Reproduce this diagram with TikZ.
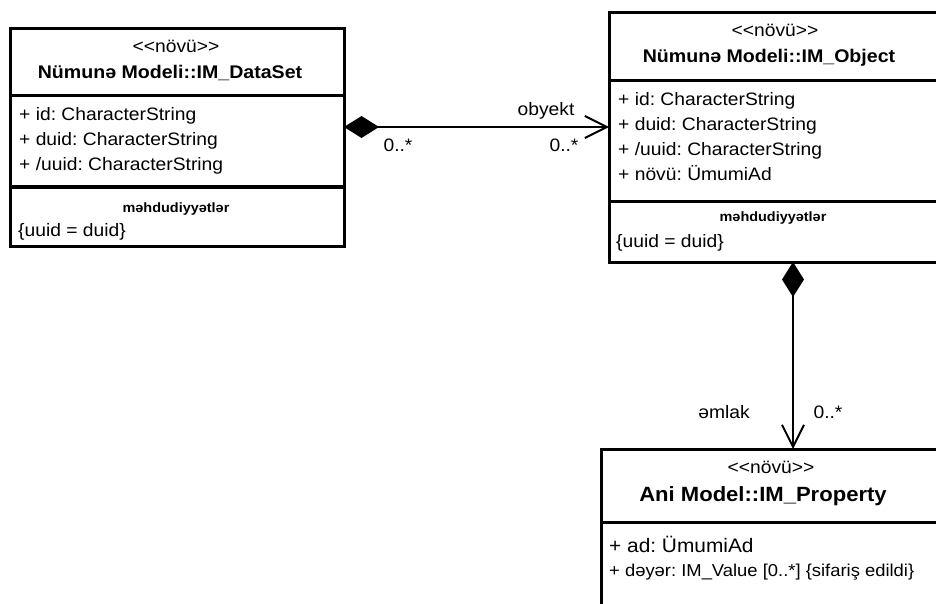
\documentclass[tikz,border=0pt]{standalone}
\usepackage{fontspec}
\setmainfont{Liberation Sans}[FakeStretch=1.07]
\usetikzlibrary{arrows.meta}
\begin{document}
\frenchspacing
\begin{tikzpicture}[x=1pt,y=-1pt,
  umlbox/.style={draw,line width=3pt,inner sep=0pt,outer sep=0pt},
  sep/.style={line width=3pt},
  txt/.style={inner sep=0pt,font=\fontsize{18}{20}\selectfont},
  ttl/.style={inner sep=0pt,font=\fontsize{18.3}{20}\selectfont\bfseries},
  cons/.style={inner sep=0pt,font=\fontsize{13.5}{15}\selectfont\bfseries},
  bigtxt/.style={inner sep=0pt,font=\fontsize{19.5}{22}\selectfont},
  bigttl/.style={inner sep=0pt,font=\fontsize{20.6}{22}\selectfont\bfseries},
  smalltxt/.style={inner sep=0pt,font=\fontsize{17.2}{19}\selectfont},
  lbl/.style={inner sep=0pt,font=\fontsize{18}{20}\selectfont},
  link/.style={line width=2pt},
  comp/.style={link,{Diamond[length=35pt,width=22pt]}-{Straight Barb[length=22pt,width=22pt]}},
]
\useasboundingbox (0,0) rectangle (936,604);
\clip (0,0) rectangle (936,604);

% class IM_DataSet
\node[umlbox,minimum width=334pt,minimum height=217pt] (ds) at (177,137.5) {};
\draw[sep] (10,96) -- (344,96);
\draw[sep] (10,187) -- (344,187);
\node[txt,anchor=base] (ds-st) at (176,53) {<{}<növü>{}>};
\node[ttl,anchor=base] (ds-nm) at (170,79) {Nümunə Modeli::IM\_DataSet};
\node[txt,anchor=base west] (ds-a1) at (19,121) {+ id: CharacterString};
\node[txt,anchor=base west] (ds-a2) at (19,146) {+ duid: CharacterString};
\node[txt,anchor=base west] (ds-a3) at (19,171) {+ /uuid: CharacterString};
\node[cons,anchor=base] (ds-ch) at (176,212) {məhdudiyyətlər};
\node[txt,anchor=base west] (ds-c1) at (18,236) {\{uuid = duid\}};

% class IM_Object
\node[umlbox,minimum width=340pt,minimum height=249pt] (obj) at (779,137.5) {};
\draw[sep] (609,81) -- (949,81);
\draw[sep] (609,201) -- (949,201);
\node[txt,anchor=base] (obj-st) at (775,37) {<{}<növü>{}>};
\node[ttl,anchor=base] (obj-nm) at (769,63) {Nümunə Modeli::IM\_Object};
\node[txt,anchor=base west] (obj-a1) at (618,106) {+ id: CharacterString};
\node[txt,anchor=base west] (obj-a2) at (618,131) {+ duid: CharacterString};
\node[txt,anchor=base west] (obj-a3) at (618,156) {+ /uuid: CharacterString};
\node[txt,anchor=base west] (obj-a4) at (618,180) {+ növü: ÜmumiAd};
\node[cons,anchor=base] (obj-ch) at (773,221) {məhdudiyyətlər};
\node[txt,anchor=base west] (obj-c1) at (616,247) {\{uuid = duid\}};

% class IM_Property
\node[umlbox,minimum width=340pt,minimum height=200pt] (prop) at (771,549) {};
\draw[sep] (601,522) -- (941,522);
\node[txt,anchor=base] (prop-st) at (771,473) {<{}<növü>{}>};
\node[bigttl,anchor=base] (prop-nm) at (763,501) {Ani Model::IM\_Property};
\node[bigtxt,anchor=base west] (prop-a1) at (609,552) {+ ad: ÜmumiAd};
\node[smalltxt,anchor=base west] (prop-a2) at (609,576) {+ dəyər: IM\_Value [0..*] \{sifariş edildi\}};

% associations
\coordinate (hy) at (0,127);
\coordinate (vx) at (793,0);
\draw[comp] (ds.east |- hy) -- (obj.west |- hy);
\draw[comp] (obj.south -| vx) -- (prop.north -| vx);

\node[lbl,anchor=base] (l-obj) at (546,116) {obyekt};
\node[lbl,anchor=base] (l-m1) at (398,152) {0..*};
\node[lbl,anchor=base] (l-m2) at (564,152) {0..*};
\node[lbl,anchor=base] (l-eml) at (724,418) {əmlak};
\node[lbl,anchor=base] (l-m3) at (828,418) {0..*};
\end{tikzpicture}
\end{document}
